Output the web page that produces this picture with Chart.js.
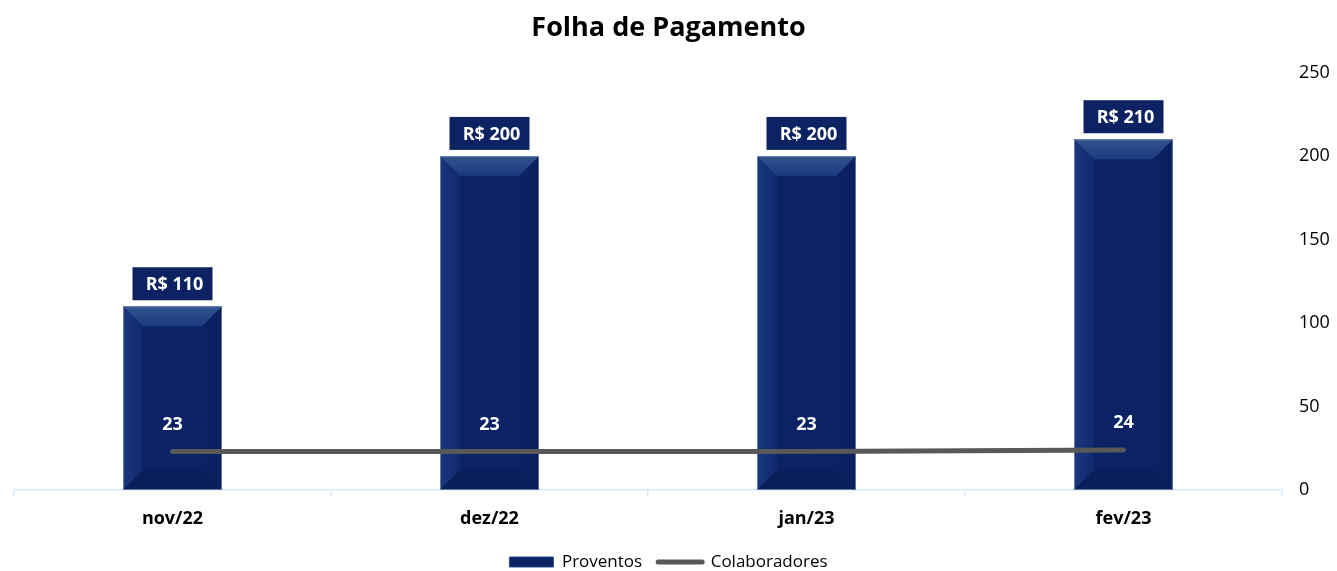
<!DOCTYPE html>
<html>
<head>
<meta charset="utf-8">
<script src="https://cdn.jsdelivr.net/npm/chart.js@4.4.1/dist/chart.umd.min.js"></script>
<style>
html,body{margin:0;padding:0;background:#fff;}
#wrap{width:1337px;height:571px;position:relative;}
</style>
</head>
<body>
<div id="wrap"><canvas id="c" width="1337" height="571"></canvas></div>
<script>
const categories = ['nov/22', 'dez/22', 'jan/23', 'fev/23'];
const proventos = [110, 200, 200, 210];
const colaboradores = [23, 23, 23, 24];
const yTicks = [0, 50, 100, 150, 200, 250];

const FONT = '"Open Sans", "Noto Sans", sans-serif';
const NAVY = '#0b2264';

const bevelPlugin = {
  id: 'bevel',
  afterDatasetDraw(chart, args) {
    if (args.index !== 0) return;
    const ctx = chart.ctx;
    const meta = chart.getDatasetMeta(0);
    meta.data.forEach(bar => {
      const l = bar.x - bar.width / 2, r = bar.x + bar.width / 2;
      const t = bar.y, b = bar.base;
      const d = 20;
      ctx.save();
      let g = ctx.createLinearGradient(l, 0, l + d, 0);
      g.addColorStop(0, '#1a377e'); g.addColorStop(1, '#102a6e');
      ctx.fillStyle = g;
      ctx.beginPath(); ctx.moveTo(l, t); ctx.lineTo(l + d, t + d); ctx.lineTo(l + d, b - d); ctx.lineTo(l, b); ctx.closePath(); ctx.fill();
      g = ctx.createLinearGradient(r - d, 0, r, 0);
      g.addColorStop(0, '#0b2264'); g.addColorStop(1, '#0a1f5c');
      ctx.fillStyle = g;
      ctx.beginPath(); ctx.moveTo(r, t); ctx.lineTo(r - d, t + d); ctx.lineTo(r - d, b - d); ctx.lineTo(r, b); ctx.closePath(); ctx.fill();
      g = ctx.createLinearGradient(0, t, 0, t + d);
      g.addColorStop(0, '#34548f'); g.addColorStop(1, '#1b3980');
      ctx.fillStyle = g;
      ctx.beginPath(); ctx.moveTo(l, t); ctx.lineTo(r, t); ctx.lineTo(r - d, t + d); ctx.lineTo(l + d, t + d); ctx.closePath(); ctx.fill();
      ctx.fillStyle = '#0a1e5a';
      ctx.beginPath(); ctx.moveTo(l, b); ctx.lineTo(r, b); ctx.lineTo(r - d, b - d); ctx.lineTo(l + d, b - d); ctx.closePath(); ctx.fill();
      ctx.strokeStyle = 'rgba(170,185,215,0.55)';
      ctx.lineWidth = 1;
      ctx.strokeRect(l + 0.5, t + 0.5, r - l - 1, b - t - 1);
      ctx.restore();
    });
  }
};

const labelPlugin = {
  id: 'valueLabels',
  afterDatasetsDraw(chart) {
    const ctx = chart.ctx;
    ctx.save();
    ctx.font = 'bold 18px ' + FONT;
    ctx.textAlign = 'center';
    ctx.textBaseline = 'middle';
    const barMeta = chart.getDatasetMeta(0);
    barMeta.data.forEach((bar, i) => {
      const w = 80, h = 33;
      const bx = bar.x - w / 2, by = bar.y - 6 - h;
      ctx.fillStyle = '#0c2262';
      ctx.fillRect(bx, by, w, h);
      ctx.fillStyle = '#fff';
      ctx.fillText('R$ ' + proventos[i], bar.x + 2, by + h / 2 + 1);
    });
    const lineMeta = chart.getDatasetMeta(1);
    lineMeta.data.forEach((pt, i) => {
      ctx.fillStyle = '#fff';
      ctx.fillText(String(colaboradores[i]), pt.x, pt.y - 27);
    });
    ctx.restore();
  }
};

new Chart(document.getElementById('c'), {
  data: {
    labels: categories,
    datasets: [
      {
        type: 'bar',
        label: 'Proventos',
        data: proventos,
        backgroundColor: NAVY,
        borderWidth: 0,
        categoryPercentage: 1,
        barPercentage: 0.312,
        yAxisID: 'y',
        order: 2
      },
      {
        type: 'line',
        label: 'Colaboradores',
        data: colaboradores,
        borderColor: '#595959',
        backgroundColor: '#595959',
        borderWidth: 5,
        borderCapStyle: 'round',
        pointRadius: 0,
        tension: 0,
        yAxisID: 'y',
        order: 1
      }
    ]
  },
  options: {
    responsive: false,
    animation: false,
    layout: { padding: { left: 0, right: 0, top: 0, bottom: -9.5 } },
    plugins: {
      title: {
        display: true,
        text: 'Folha de Pagamento',
        color: '#000',
        font: { family: FONT, size: 27, weight: 'bold' },
        padding: { top: 12, bottom: 28 }
      },
      legend: {
        position: 'bottom',
        labels: {
          color: '#000',
          font: { family: FONT, size: 17 },
          usePointStyle: true,
          pointStyleWidth: 44,
          boxHeight: 10,
          padding: 16,
          generateLabels(chart) {
            return [
              { text: 'Proventos', fillStyle: NAVY, strokeStyle: '#2a4a8c', lineWidth: 1, pointStyle: 'rect', datasetIndex: 0, fontColor: '#000' },
              { text: 'Colaboradores', fillStyle: '#595959', strokeStyle: '#595959', lineWidth: 5, pointStyle: 'line', lineCap: 'round', datasetIndex: 1, fontColor: '#000' }
            ];
          }
        }
      },
      tooltip: { enabled: false }
    },
    scales: {
      x: {
        afterFit(scale) { scale.height = 47.5; },
        grid: {
          display: true,
          drawOnChartArea: false,
          drawTicks: true,
          tickLength: 6,
          color: '#d5ebf8',
          lineWidth: 1.5,
          offset: true
        },
        border: { display: true, color: '#d5ebf8', width: 1.5 },
        ticks: {
          color: '#000',
          font: { family: FONT, size: 18, weight: 'bold' },
          padding: 12
        }
      },
      yl: {
        position: 'left',
        display: true,
        min: 0,
        max: 250,
        afterFit(scale) { scale.width = 14; },
        grid: { display: false },
        border: { display: false },
        ticks: { display: false }
      },
      y: {
        position: 'right',
        min: 0,
        max: 250,
        afterBuildTicks(scale) { scale.ticks = yTicks.map(v => ({ value: v })); },
        afterFit(scale) { scale.width = 55; },
        grid: { display: false },
        border: { display: false },
        ticks: {
          color: '#000',
          font: { family: FONT, size: 18 },
          padding: 9
        }
      }
    }
  },
  plugins: [bevelPlugin, labelPlugin]
});
</script>
</body>
</html>
